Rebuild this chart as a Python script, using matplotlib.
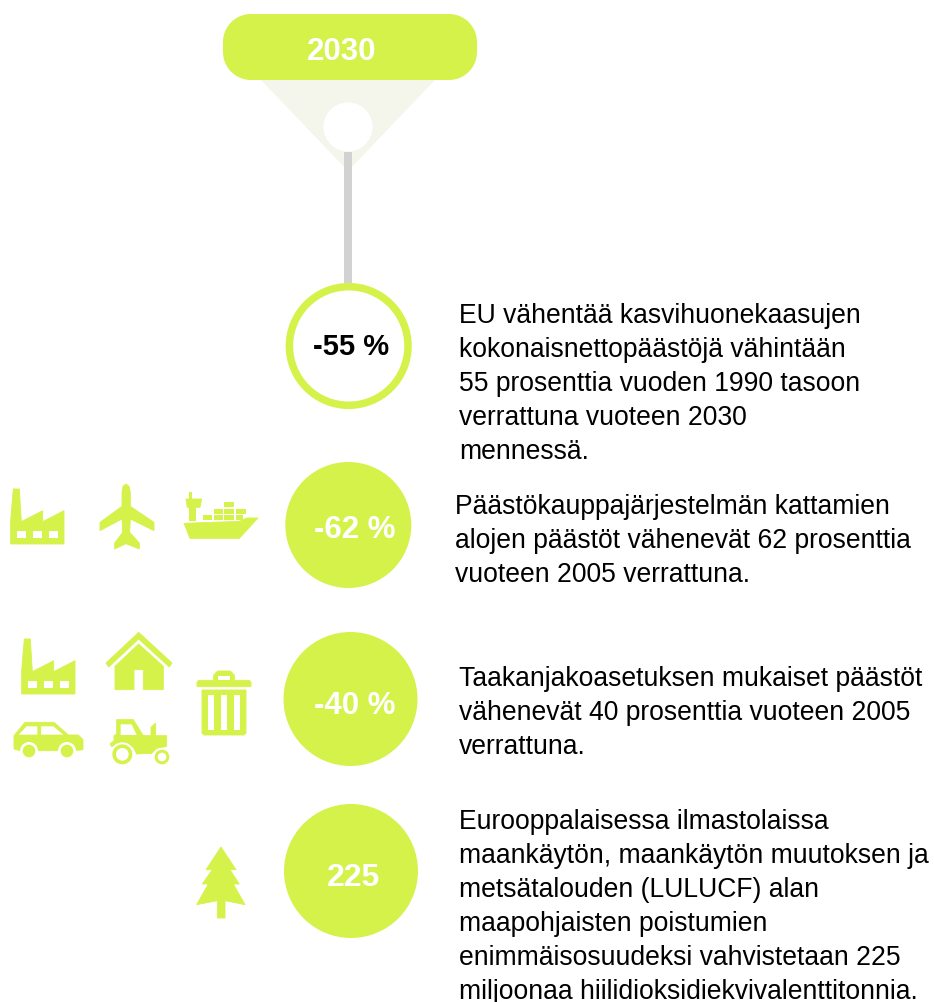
import numpy as np
import matplotlib
matplotlib.use("Agg")
import matplotlib.pyplot as plt
from matplotlib.patches import Circle, Polygon, Rectangle

plt.rcParams['font.family'] = ['Liberation Sans', 'DejaVu Sans']

year_label = "2030"
circle_labels = ["-55 %", "-62 %", "-40 %", "225"]
descriptions = [
    ["EU vähentää kasvihuonekaasujen", "kokonaisnettopäästöjä vähintään",
     "55 prosenttia vuoden 1990 tasoon", "verrattuna vuoteen 2030", "mennessä."],
    ["Päästökauppajärjestelmän kattamien", "alojen päästöt vähenevät 62 prosenttia",
     "vuoteen 2005 verrattuna."],
    ["Taakanjakoasetuksen mukaiset päästöt", "vähenevät 40 prosenttia vuoteen 2005",
     "verrattuna."],
    ["Eurooppalaisessa ilmastolaissa", "maankäytön, maankäytön muutoksen ja",
     "metsätalouden (LULUCF) alan", "maapohjaisten poistumien",
     "enimmäisosuudeksi vahvistetaan 225", "miljoonaa hiilidioksidiekvivalenttitonnia."],
]

GREEN = "#d5f24b"
PALE = "#f4f6ec"
GREY = "#d2d2d2"

fig = plt.figure(figsize=(9.34, 10.03), dpi=100, facecolor="white")
ax = fig.add_axes([0, 0, 1, 1])
ax.set_xlim(0, 934)
ax.set_ylim(1003, 0)
ax.axis("off")


def _edge(color):
    return (color, 0.6) if color == GREEN else ("none", 0)


def poly(pts, ox=0, oy=0, color=GREEN, z=3):
    ec, lw = _edge(color)
    ax.add_patch(Polygon([(ox + x / 3, oy + y / 3) for x, y in pts], closed=True,
                         facecolor=color, edgecolor=ec, linewidth=lw, zorder=z))


def rect(x0, y0, x1, y1, ox=0, oy=0, color=GREEN, z=3):
    ax.add_patch(Rectangle((ox + x0 / 3, oy + y0 / 3), (x1 - x0) / 3, (y1 - y0) / 3,
                           facecolor=color, edgecolor="none", zorder=z))


def disc(x, y, r, ox=0, oy=0, color=GREEN, z=3):
    ax.add_patch(Circle((ox + x / 3, oy + y / 3), r / 3, facecolor=color, edgecolor="none", zorder=z))


def rounded_box(x0, y0, x1, y1, r, color, z):
    t = np.linspace(0, np.pi / 2, 24)
    corners = [(x1 - r, y1 - r, 0), (x0 + r, y1 - r, np.pi / 2),
               (x0 + r, y0 + r, np.pi), (x1 - r, y0 + r, 3 * np.pi / 2)]
    pts = []
    for cx, cy, a in corners:
        pts += list(zip(cx + r * np.cos(t + a), cy + r * np.sin(t + a)))
    ax.add_patch(Polygon(pts, closed=True, facecolor=color, edgecolor="none", zorder=z))


def factory(ox, oy):
    poly([(40, 60), (58, 60), (64, 158), (128, 125), (128, 158), (192, 125), (192, 225),
          (32, 225), (32, 155), (36, 105)], ox, oy)
    for a in (50, 98, 146):
        rect(a, 187, a + 28, 207, ox, oy, "white", 4)


def plane(ox, oy):
    poly([(378, 45), (387, 52), (391, 70), (391, 112), (462, 160), (462, 185), (391, 150),
          (389, 190), (418, 222), (418, 240), (378, 224), (344, 240), (344, 222), (368, 190),
          (366, 150), (300, 185), (300, 160), (366, 112), (366, 70), (369, 52)], ox, oy)


def ship(ox, oy):
    poly([(552, 163), (718, 157), (740, 147), (774, 147), (718, 208), (570, 208)], ox, oy)
    rect(567, 110, 587, 155, ox, oy)
    poly([(558, 90), (605, 90), (600, 115), (562, 115)], ox, oy)
    rect(568, 70, 576, 92, ox, oy)
    for a, b in ((609, 636), (641, 670), (673, 703), (707, 728)):
        rect(a, 138, b, 153, ox, oy)
    for a, b in ((641, 670), (673, 703), (707, 738)):
        rect(a, 120, b, 135, ox, oy)
    rect(673, 100, 703, 115, ox, oy)


def house(ox, oy):
    poly([(416, 40), (516, 132), (508, 144), (416, 60), (326, 144), (318, 132)], ox, oy)
    poly([(345, 212), (345, 142), (416, 75), (490, 142), (490, 212), (430, 212),
          (430, 152), (402, 152), (402, 212)], ox, oy)


def trash(ox, oy):
    poly([(591, 190), (596, 184), (641, 184), (641, 168), (653, 156), (691, 156), (703, 168),
          (703, 184), (748, 184), (753, 190), (753, 203), (591, 203)], ox, oy)
    rect(655, 170, 690, 184, ox, oy, "white", 4)
    poly([(606, 213), (738, 213), (738, 342), (732, 348), (612, 348), (606, 342)], ox, oy)
    for a in (625, 664, 703):
        rect(a, 228, a + 16, 334, ox, oy, "white", 4)


def car(ox, oy):
    poly([(42, 350), (75, 310), (162, 310), (205, 348), (235, 348), (249, 362), (249, 392),
          (225, 395), (60, 395), (42, 390)], ox, oy)
    poly([(56, 347), (80, 322), (112, 322), (112, 347)], ox, oy, "white", 4)
    poly([(123, 322), (160, 322), (190, 347), (123, 347)], ox, oy, "white", 4)
    for cx in (87, 201):
        disc(cx, 396, 27, ox, oy, "white", 4)
        disc(cx, 396, 19, ox, oy, GREEN, 5)


def tractor(ox, oy):
    poly([(350, 302), (400, 302), (430, 350), (500, 350), (500, 382), (470, 388), (455, 403),
          (410, 405), (400, 385), (365, 372), (335, 383), (330, 375), (342, 365), (342, 350),
          (350, 345)], ox, oy)
    poly([(362, 316), (395, 316), (410, 348), (362, 348)], ox, oy, "white", 4)
    poly([(453, 350), (453, 325), (467, 312), (467, 350)], ox, oy)
    disc(367, 406, 36, ox, oy, "white", 4)
    disc(367, 406, 30, ox, oy, GREEN, 5)
    disc(367, 406, 19, ox, oy, "white", 6)
    disc(486, 414, 27, ox, oy, "white", 4)
    disc(486, 414, 22, ox, oy, GREEN, 5)
    disc(486, 414, 13, ox, oy, "white", 6)


def tree(ox, oy):
    poly([(123, 54), (168, 122), (150, 122), (178, 165), (160, 165), (195, 227), (135, 215),
          (135, 267), (112, 267), (112, 215), (50, 227), (85, 165), (67, 165), (97, 122),
          (78, 122)], ox, oy)


# Header pill, funnel and connector
ax.add_patch(Polygon([(261, 81), (435, 81), (348, 172)], closed=True, facecolor=PALE, edgecolor="none", zorder=1))
rounded_box(223, 15, 477, 81, 28, GREEN, 2)
ax.add_patch(Circle((348, 128), 24.5, facecolor="white", edgecolor="none", zorder=2))
ax.add_patch(Rectangle((344, 153), 8, 133, facecolor=GREY, edgecolor="none", zorder=2))
ax.text(341.5, 48.5, year_label, color="white", fontsize=22.5, fontweight="bold", ha="center", va="center_baseline", zorder=5)

# Circles
centres = [(348.7, 347), (348.3, 526), (350.5, 700), (351, 872)]
radii = [59.3, 63, 67, 67]
ax.add_patch(Circle(centres[0], radii[0], facecolor="white", edgecolor=GREEN, linewidth=5.4, zorder=3))
for c, r in zip(centres[1:], radii[1:]):
    ax.add_patch(Circle(c, r, facecolor=GREEN, edgecolor="none", zorder=3))
label_colors = ["black", "white", "white", "white"]
label_x = [351.3, 354.3, 354.6, 353]
label_y = [343.5, 527, 703, 875]
label_size = [21, 22.5, 22.5, 23]
for s, col, lx, ly, fs in zip(circle_labels, label_colors, label_x, label_y, label_size):
    ax.text(lx, ly, s, color=col, fontsize=fs, fontweight="bold", ha="center", va="center_baseline", zorder=6)

# Descriptions
text_x = [459, 455, 459, 459]
baselines = [323, 514, 686, 829]
for lines, x, b in zip(descriptions, text_x, baselines):
    for i, line in enumerate(lines):
        ax.text(x, b + i * 34, line, color="black", fontsize=19.1, ha="left", va="baseline", zorder=6)

# Icons
factory(0, 470)
plane(0, 470)
ship(0, 470)
factory(11, 620)
house(0, 620)
trash(0, 620)
car(0, 620)
tractor(0, 620)
tree(180, 830)

fig.savefig("out.png", dpi=100)
